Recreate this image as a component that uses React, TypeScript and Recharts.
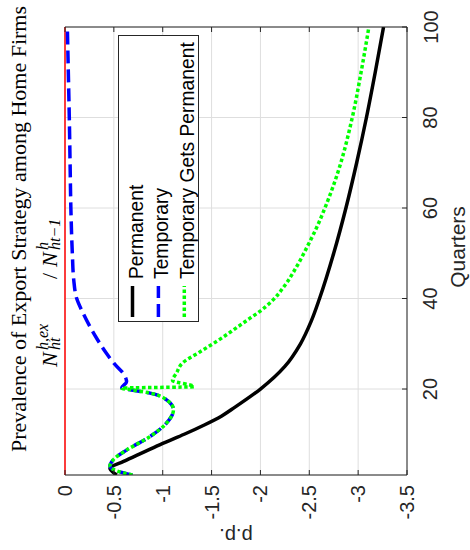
import React from "react";
import { LineChart, Line, XAxis, YAxis, CartesianGrid, ReferenceLine, Legend } from "recharts";

// plot box (pixels) used for the inward tick marks
const PLOT = { left: 65, top: 27, right: 407, bottom: 475 };
const AXIS = "#262626";
const SANS = "Liberation Sans, Arial, sans-serif";
const SERIF = "Liberation Serif, Times New Roman, serif";

const ppTicks = [0, -0.5, -1, -1.5, -2, -2.5, -3, -3.5];
const quarterTicks = [20, 40, 60, 80, 100];

const permanentQuarters = [1, 2.5, 4, 6, 8, 10, 12, 14, 16, 20, 25, 30, 35, 40, 50, 60, 70, 80, 90, 100];
const permanentValues = [-0.53, -0.46, -0.6, -0.8, -1.0, -1.22, -1.42, -1.6, -1.74, -2.0, -2.25, -2.41, -2.52, -2.605, -2.75, -2.875, -2.985, -3.085, -3.175, -3.26];

const temporaryQuarters = [1, 2, 3, 4.5, 6.5, 9.5, 12.5, 15.4, 17.6, 19.1, 19.8, 20.2, 21.6, 23, 25.7, 28, 31, 34, 37, 40, 44, 50, 60, 70, 80, 90, 100];
const temporaryValues = [-0.69, -0.52, -0.46, -0.5, -0.63, -0.87, -1.04, -1.11, -1.04, -0.87, -0.68, -0.58, -0.63, -0.61, -0.5, -0.42, -0.33, -0.25, -0.18, -0.12, -0.09, -0.075, -0.06, -0.052, -0.044, -0.034, -0.024];

const switchQuarters = [1, 2, 3, 4.5, 6.5, 9.5, 12.5, 15.4, 17.6, 19.1, 19.8, 20.2, 20.5, 21.9, 23.5, 25.7, 28.2, 30.5, 33, 35.6, 37.1, 39.7, 42.6, 47.4, 51.5, 55.9, 60, 67.7, 80, 90, 100];
const switchValues = [-0.69, -0.52, -0.46, -0.5, -0.63, -0.87, -1.04, -1.11, -1.04, -0.87, -0.68, -0.58, -1.32, -1.1, -1.14, -1.2, -1.38, -1.55, -1.72, -1.89, -1.99, -2.13, -2.24, -2.38, -2.48, -2.58, -2.66, -2.79, -2.94, -3.03, -3.11];

const series = [
  { name: "Permanent", quarters: permanentQuarters, values: permanentValues, color: "#000000", dash: undefined as string | undefined },
  { name: "Temporary", quarters: temporaryQuarters, values: temporaryValues, color: "#0000ff", dash: "13 6" },
  { name: "Temporary Gets Permanent", quarters: switchQuarters, values: switchValues, color: "#00ff00", dash: "3.5 2.5" },
];

const toRows = (quarters: number[], values: number[]) => quarters.map((t, i) => ({ t, v: values[i] }));

const BottomTick = (props: any) => {
  const { x, payload } = props;
  return (
    <g>
      <line x1={x} x2={x} y1={PLOT.bottom} y2={PLOT.bottom - 5} stroke={AXIS} />
      <text x={x} y={485} transform={`rotate(-90 ${x} 485)`} textAnchor="end" dy="0.35em" fontFamily={SANS} fontSize={20} fill={AXIS}>
        {String(payload.value)}
      </text>
    </g>
  );
};

const TopTick = (props: any) => (
  <line x1={props.x} x2={props.x} y1={PLOT.top} y2={PLOT.top + 5} stroke={AXIS} />
);

const RightTick = (props: any) => {
  const { y, payload } = props;
  return (
    <g>
      <line x1={PLOT.right} x2={PLOT.right - 5} y1={y} y2={y} stroke={AXIS} />
      <text x={437.5} y={y} transform={`rotate(-90 437.5 ${y})`} textAnchor="middle" fontFamily={SANS} fontSize={20} fill={AXIS}>
        {payload.value}
      </text>
    </g>
  );
};

const LeftTick = (props: any) => (
  <line x1={PLOT.left} x2={PLOT.left + 5} y1={props.y} y2={props.y} stroke={AXIS} />
);

const LegendBox = (props: any) => {
  const items = (props.payload || []).map((p: any) => series.find((s) => s.name === p.value) || series[0]);
  const list = items.length ? items : series;
  return (
    <svg width={81} height={287} style={{ display: "block" }}>
      <rect x={0.5} y={0.5} width={80} height={286} fill="#fff" stroke={AXIS} strokeWidth={1} />
      {list.map((s: any, i: number) => {
        const base = 24.5 + i * 25.7;
        const cx = 14.5 + i * 25.9;
        return (
          <g key={s.name}>
            <line x1={cx} x2={cx} y1={282} y2={251} stroke={s.color} strokeWidth={3.5} strokeDasharray={s.dash} />
            <text x={base} y={244} transform={`rotate(-90 ${base} 244)`} fontFamily={SANS} fontSize={19.3} fill="#000">
              {s.name}
            </text>
          </g>
        );
      })}
    </svg>
  );
};

export default function App() {
  return (
    <div style={{ position: "absolute", left: 0, top: 0, width: 470, height: 550, background: "#fff" }}>
      <LineChart width={470} height={550} layout="vertical" margin={{ top: 0, right: 0, bottom: 0, left: 65 }}>
        <CartesianGrid stroke="#dedede" />
        <XAxis type="number" domain={[-3.5, 0]} reversed ticks={ppTicks} interval={0} height={75}
          axisLine={{ stroke: AXIS }} tickLine={false} tick={BottomTick} allowDataOverflow />
        <XAxis xAxisId="top" orientation="top" type="number" domain={[-3.5, 0]} reversed ticks={ppTicks} interval={0}
          height={27} axisLine={{ stroke: AXIS }} tickLine={false} tick={TopTick} allowDataOverflow />
        <YAxis type="number" dataKey="t" orientation="right" domain={[1, 100]} reversed ticks={quarterTicks} interval={0}
          width={63} axisLine={{ stroke: AXIS }} tickLine={false} tick={RightTick} allowDataOverflow />
        <YAxis yAxisId="left" type="number" dataKey="t" orientation="left" domain={[1, 100]} reversed ticks={quarterTicks}
          interval={0} width={0} axisLine={false} tickLine={false} tick={LeftTick} allowDataOverflow />
        <ReferenceLine x={0} stroke="#ff0000" strokeWidth={1.5} />
        {series.map((s) => (
          <Line key={s.name} name={s.name} data={toRows(s.quarters, s.values)} dataKey="v" type="monotone"
            stroke={s.color} strokeWidth={3.5} strokeDasharray={s.dash} dot={false} activeDot={false}
            isAnimationActive={false} />
        ))}
        <Legend layout="horizontal" verticalAlign="middle" align="center" content={LegendBox}
          wrapperStyle={{ left: 118, top: 35, width: 81, height: 287 }} />
      </LineChart>
      <svg width={470} height={550} style={{ position: "absolute", left: 0, top: 0, pointerEvents: "none" }}>
        <text transform="translate(26,229) rotate(-90)" textAnchor="middle" fontFamily={SERIF} fontSize={22} fill="#000">
          Prevalence of Export Strategy among Home Firms
        </text>
        <g transform="translate(57,367) rotate(-90)" fontFamily={SERIF} fontStyle="italic" fill="#000">
          <text x={0} y={0} fontSize={22}>N</text>
          <text x={17} y={-9} fontSize={16}>h,ex</text>
          <text x={17} y={3} fontSize={16}>ht</text>
          <text x={88} y={0} fontSize={22} fontStyle="normal">/</text>
          <text x={100} y={0} fontSize={22}>N</text>
          <text x={117} y={-9} fontSize={16}>h</text>
          <text x={117} y={3} fontSize={16}>ht−1</text>
        </g>
        <text transform="translate(465,247) rotate(-90)" textAnchor="middle" fontFamily={SANS} fontSize={21} fill={AXIS}>
          Quarters
        </text>
        <text transform="translate(236,529) rotate(180)" textAnchor="middle" fontFamily={SANS} fontSize={20} fill={AXIS}>
          p.p.
        </text>
      </svg>
    </div>
  );
}
